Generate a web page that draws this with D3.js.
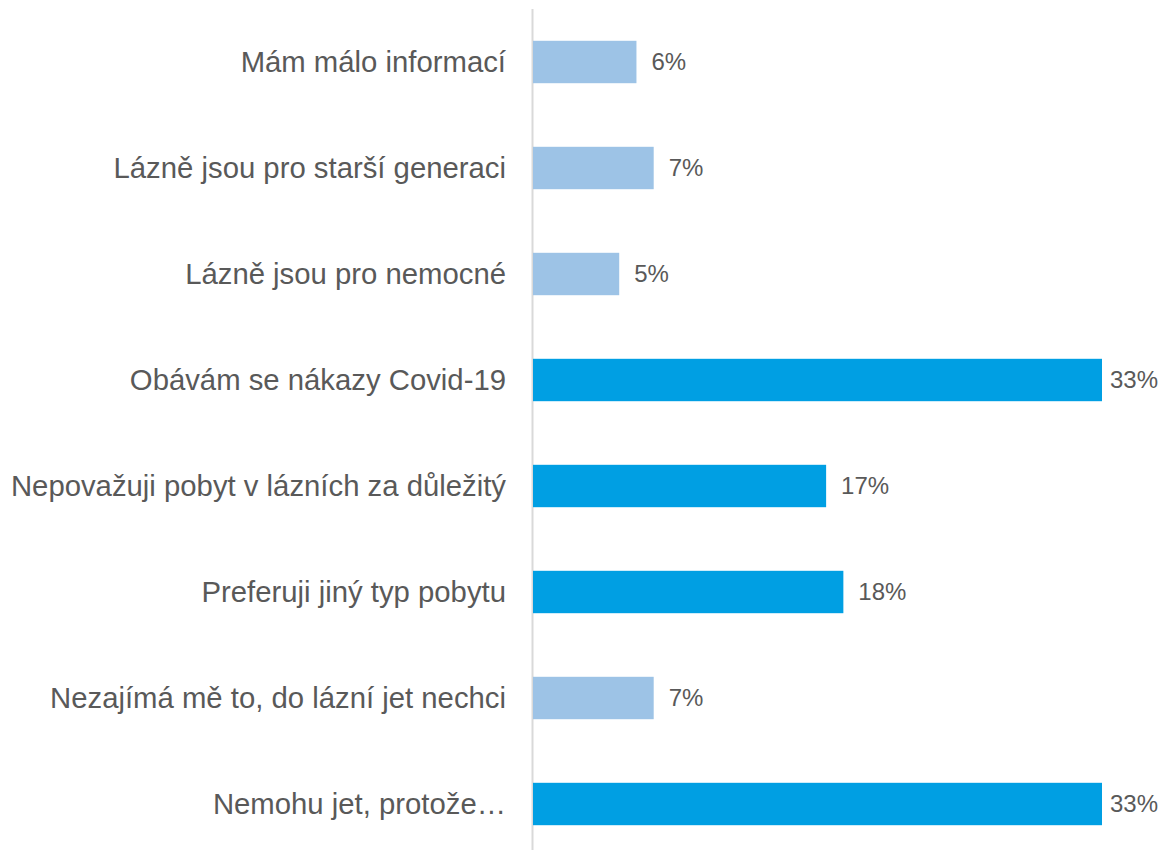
<!DOCTYPE html>
<html>
<head>
<meta charset="utf-8">
<script src="https://cdn.jsdelivr.net/npm/d3@7"></script>
<style>
  body { margin: 0; background: #fff; }
  text { font-family: "Liberation Sans", Arial, sans-serif; fill: #595959; }
</style>
</head>
<body>
<script>
// data
var categories = [
    "Mám málo informací",
    "Lázně jsou pro starší generaci",
    "Lázně jsou pro nemocné",
    "Obávám se nákazy Covid-19",
    "Nepovažuji pobyt v lázních za důležitý",
    "Preferuji jiný typ pobytu",
    "Nezajímá mě to, do lázní jet nechci",
    "Nemohu jet, protože…"
];
var values = [6, 7, 5, 33, 17, 18, 7, 33];
// true = dark blue bar
var highlight = [false, false, false, true, true, true, false, true];

var width = 1161;
var height = 850;
var axisX = 533;

var svg = d3.select("body")
    .append("svg")
    .attr("width", width)
    .attr("height", height);

var xScale = d3.scaleLinear()
    .domain([0, 33])
    .range([axisX, 1102]);

var yScale = d3.scaleBand()
    .domain(categories)
    .range([9, 857])
    .paddingInner(0.6)
    .paddingOuter(0.3);

// vertical axis line
svg.append("line")
    .attr("x1", axisX - 0.5)
    .attr("x2", axisX - 0.5)
    .attr("y1", 9)
    .attr("y2", 850)
    .attr("stroke", "#d9d9d9")
    .attr("stroke-width", 2);

svg.selectAll("rect.bar")
    .data(values)
    .enter()
    .append("rect")
    .attr("class", "bar")
    .attr("x", xScale(0))
    .attr("y", function(d, i) { return yScale(categories[i]); })
    .attr("width", function(d) { return xScale(d) - xScale(0); })
    .attr("height", yScale.bandwidth())
    .attr("fill", function(d, i) { return highlight[i] ? "#009FE3" : "#9DC3E6"; });

// category labels
svg.selectAll("text.cat")
    .data(categories)
    .enter()
    .append("text")
    .attr("class", "cat")
    .attr("x", axisX - 27)
    .attr("y", function(d) { return yScale(d) + yScale.bandwidth() / 2; })
    .attr("dy", "0.35em")
    .attr("text-anchor", "end")
    .style("font-size", "29.3px")
    .text(function(d) { return d; });

// value labels, pushed back inside the picture when they would overflow
svg.selectAll("text.val")
    .data(values)
    .enter()
    .append("text")
    .attr("class", "val")
    .attr("y", function(d, i) { return yScale(categories[i]) + yScale.bandwidth() / 2; })
    .attr("dy", "0.35em")
    .style("font-size", "24px")
    .text(function(d) { return d + "%"; })
    .each(function(d) {
        var w = this.getComputedTextLength();
        var x = xScale(d) + 15;
        if (x + w > width - 3) x = width - 3 - w;
        d3.select(this).attr("x", x);
    });
</script>
</body>
</html>
